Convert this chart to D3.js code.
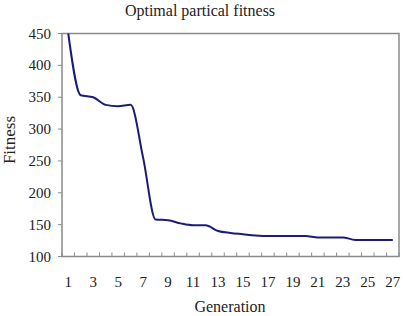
<!DOCTYPE html>
<html>
<head>
<meta charset="utf-8">
<script src="https://cdn.jsdelivr.net/npm/d3@7"></script>
<style>
  body { margin: 0; background: #fff; }
  svg text { font-family: "Liberation Serif", "DejaVu Serif", serif; fill: #222; }
</style>
</head>
<body>
<div id="chart-div"></div>
<script>
const generations = d3.range(1, 28);
const fitness = [450, 353, 350, 338, 336, 338, 255, 158, 157, 152, 149, 149, 140, 137, 135, 133, 132,
  132, 132, 132, 130, 130, 130, 126, 126, 126, 126];
const yTicks = [100, 150, 200, 250, 300, 350, 400, 450];
const xLabels = d3.range(1, 28, 2);

function drawFitnessChart() {
  const width = 403, height = 316;
  const plot = { left: 62, right: 399, top: 33.5, bottom: 256.5 };

  const svg = d3.select('#chart-div').append('svg')
    .attr('width', width)
    .attr('height', height);

  const x = d3.scaleLinear().domain([0.5, 27.5]).range([plot.left, plot.right]);
  const y = d3.scaleLinear().domain([100, 450]).range([plot.bottom, plot.top]);

  // --- Frame ---
  svg.append('rect')
    .attr('x', plot.left).attr('y', plot.top)
    .attr('width', plot.right - plot.left).attr('height', plot.bottom - plot.top)
    .attr('fill', 'none').attr('stroke', '#8a8a8a').attr('stroke-width', 1.5);

  // y ticks (outside)
  svg.selectAll('.ytick').data(yTicks).enter().append('line')
    .attr('x1', plot.left - 4).attr('x2', plot.left)
    .attr('y1', d => y(d)).attr('y2', d => y(d))
    .attr('stroke', '#8a8a8a');

  svg.selectAll('.ylabel').data(yTicks).enter().append('text')
    .attr('x', 51).attr('y', d => y(d) + 5)
    .attr('text-anchor', 'end')
    .style('font-size', '15px')
    .text(d => d);

  // x ticks at category boundaries (inside)
  const bounds = d3.range(0.5, 28, 1);
  svg.selectAll('.xtick').data(bounds).enter().append('line')
    .attr('x1', d => x(d)).attr('x2', d => x(d))
    .attr('y1', plot.bottom - 4).attr('y2', plot.bottom)
    .attr('stroke', '#8a8a8a');

  svg.selectAll('.xlabel').data(xLabels).enter().append('text')
    .attr('x', d => x(d)).attr('y', 287)
    .attr('text-anchor', 'middle')
    .style('font-size', '15px')
    .text(d => d);

  // --- Line ---
  const line = d3.line()
    .x((d, i) => x(generations[i]))
    .y(d => y(d))
    .curve(d3.curveMonotoneX);

  svg.append('path')
    .datum(fitness)
    .attr('d', line)
    .attr('fill', 'none')
    .attr('stroke', '#1c1c78')
    .attr('stroke-width', 2);

  // --- Titles ---
  svg.append('text')
    .attr('x', 200).attr('y', 16)
    .attr('text-anchor', 'middle')
    .style('font-size', '16px')
    .text('Optimal partical fitness');

  svg.append('text')
    .attr('x', 230).attr('y', 312)
    .attr('text-anchor', 'middle')
    .style('font-size', '16px')
    .text('Generation');

  svg.append('text')
    .attr('transform', 'translate(15,140) rotate(-90)')
    .attr('text-anchor', 'middle')
    .style('font-size', '17px')
    .text('Fitness');
}

drawFitnessChart();
</script>
</body>
</html>
